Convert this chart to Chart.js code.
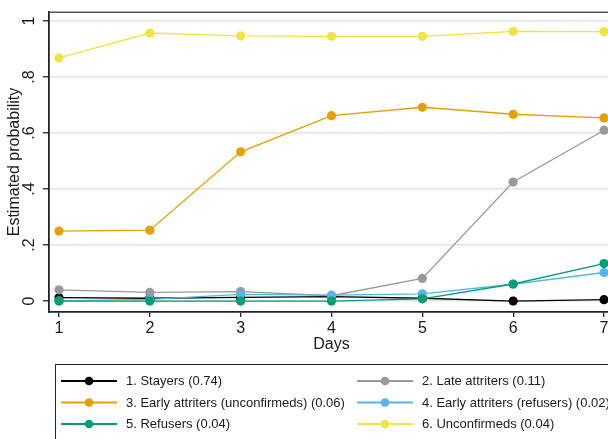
<!DOCTYPE html>
<html><head><meta charset="utf-8">
<script src="https://cdn.jsdelivr.net/npm/chart.js@4/dist/chart.umd.min.js"></script>
<style>html,body{margin:0;padding:0;overflow:hidden;background:#fff;width:608px;height:439px}canvas{display:block}</style>
</head><body>
<canvas id="c" width="640" height="439" style="width:640px;height:439px"></canvas>
<script>
const days = [1, 2, 3, 4, 5, 6, 7];
const xTickLabels = ['1', '2', '3', '4', '5', '6', '7'];
const yTicks = [0, 0.2, 0.4, 0.6, 0.8, 1];
const yTickLabels = ['0', '.2', '.4', '.6', '.8', '1'];
const seriesNames = ['1. Stayers (0.74)', '2. Late attriters (0.11)', '3. Early attriters (unconfirmeds) (0.06)', '4. Early attriters (refusers) (0.02)', '5. Refusers (0.04)', '6. Unconfirmeds (0.04)'];
const stayers      = [0.012, 0.010, 0.013, 0.016, 0.010, 0.000, 0.005];
const lateAttriters= [0.040, 0.031, 0.034, 0.019, 0.081, 0.425, 0.610];
const earlyUnconf  = [0.250, 0.253, 0.533, 0.662, 0.692, 0.667, 0.654];
const earlyRef     = [0.001, 0.006, 0.024, 0.021, 0.026, 0.060, 0.102];
const refusers     = [0.000, 0.000, 0.000, 0.000, 0.008, 0.061, 0.134];
const unconfirmeds = [0.868, 0.957, 0.947, 0.945, 0.945, 0.963, 0.962];
const colors = ['#000000', '#999999', '#E69F00', '#56B4E9', '#009E73', '#F0E442'];
const xTitle = 'Days';
const yTitle = 'Estimated probability';

const FONT = "'Liberation Sans', Arial, Helvetica, sans-serif";
Chart.defaults.font.family = FONT;
Chart.defaults.color = '#1a1a1a';

const allSeries = [stayers, lateAttriters, earlyUnconf, earlyRef, refusers, unconfirmeds];
const datasets = allSeries.map((vals, i) => ({
  label: seriesNames[i],
  data: vals.map((v, j) => ({x: days[j], y: v})),
  borderColor: colors[i],
  backgroundColor: colors[i],
  pointBackgroundColor: colors[i],
  pointBorderColor: colors[i],
  borderWidth: 1.3,
  pointRadius: 4.6,
  pointBorderWidth: 0,
  pointHoverRadius: 4.6,
  order: allSeries.length - i,
  tension: 0
}));

const decor = {
  id: 'decor',
  beforeDatasetsDraw(chart) {
    const {ctx, chartArea: a} = chart;
    ctx.save();
    ctx.strokeStyle = '#555';
    ctx.lineWidth = 1.5;
    ctx.beginPath();
    ctx.moveTo(a.left, a.top + 0.25);
    ctx.lineTo(a.right, a.top + 0.25);
    ctx.lineTo(a.right, a.bottom);
    ctx.stroke();
    ctx.restore();
  },
  afterDraw(chart) {
    const {ctx} = chart;
    const ys = chart.scales.y;
    ctx.save();
    ctx.fillStyle = '#1a1a1a';
    ctx.font = '16px ' + FONT;
    ctx.textAlign = 'center';
    ctx.textBaseline = 'alphabetic';
    yTicks.forEach((v, i) => {
      const py = ys.getPixelForValue(v);
      ctx.save();
      ctx.translate(33.5, py);
      ctx.rotate(-Math.PI / 2);
      ctx.fillText(yTickLabels[i], 0, 0);
      ctx.restore();
    });
    // legend
    ctx.strokeStyle = '#222';
    ctx.lineWidth = 1;
    ctx.strokeRect(55.5, 364.5, 700, 120);
    const rowsY = [381, 402.5, 424];
    const cols = [{l0: 61, l1: 117, m: 89, t: 126}, {l0: 357, l1: 413, m: 385, t: 422}];
    ctx.font = '13px ' + FONT;
    ctx.textAlign = 'left';
    ctx.textBaseline = 'middle';
    chart.data.datasets.forEach((ds, i) => {
      const c = cols[i % 2], y = rowsY[Math.floor(i / 2)];
      ctx.strokeStyle = ds.borderColor;
      ctx.lineWidth = 2;
      ctx.beginPath(); ctx.moveTo(c.l0, y); ctx.lineTo(c.l1, y); ctx.stroke();
      ctx.fillStyle = ds.backgroundColor;
      ctx.beginPath(); ctx.arc(c.m, y, 4.3, 0, Math.PI * 2); ctx.fill();
      ctx.fillStyle = '#1a1a1a';
      ctx.fillText(ds.label, c.t, y + 0.5);
    });
    ctx.restore();
  }
};

new Chart(document.getElementById('c'), {
  type: 'line',
  data: {datasets},
  options: {
    responsive: false,
    animation: false,
    devicePixelRatio: 1,
    layout: {padding: {top: 12, right: 26, bottom: 77, left: 0}},
    plugins: {legend: {display: false}, tooltip: {enabled: false}},
    scales: {
      x: {
        type: 'linear',
        min: 0.89, max: 7.11,
        afterBuildTicks: s => { s.ticks = days.map(v => ({value: v})); },
        afterFit: s => { s.height = 50; },
        grid: {display: true, drawOnChartArea: false, drawTicks: true, tickLength: 5, color: '#222', lineWidth: 1.3},
        border: {display: true, color: '#222', width: 1.8},
        ticks: {
          font: {size: 16}, color: '#1a1a1a', padding: 2, maxRotation: 0, minRotation: 0, autoSkip: false,
          callback: (v) => { const k = days.indexOf(v); return k >= 0 ? xTickLabels[k] : ''; }
        },
        title: {display: true, text: xTitle, font: {size: 16}, color: '#1a1a1a', padding: {top: 0, bottom: 8}}
      },
      y: {
        type: 'linear',
        min: -0.039, max: 1.032,
        afterBuildTicks: s => { s.ticks = yTicks.map(v => ({value: v})); },
        afterFit: s => { s.width = 49; },
        grid: {
          display: true, drawOnChartArea: true, drawTicks: true, tickLength: 6,
          color: '#e3e3e3', lineWidth: 1.5,
          tickColor: '#222', tickWidth: 1.3
        },
        border: {display: true, color: '#222', width: 1.8},
        ticks: {display: false},
        title: {display: true, text: yTitle, font: {size: 16}, color: '#1a1a1a', padding: {top: 4.5, bottom: 0}}
      }
    }
  },
  plugins: [decor]
});
</script>
</body></html>
